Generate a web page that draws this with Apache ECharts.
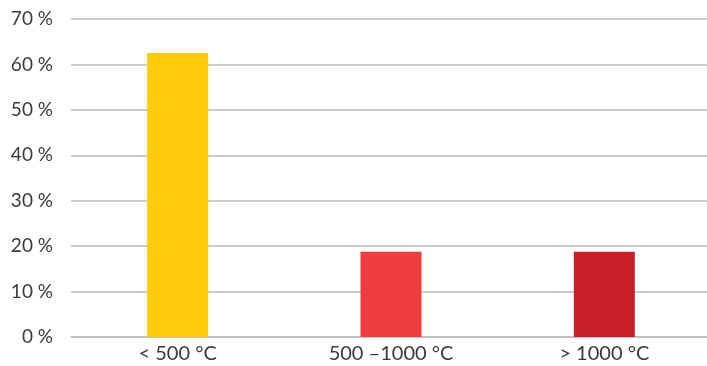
<!DOCTYPE html>
<html>
<head>
<meta charset="utf-8">
<script src="https://cdn.jsdelivr.net/npm/echarts@6/dist/echarts.min.js"></script>
<style>
  html, body { margin: 0; padding: 0; background: #fff; }
  #chart { width: 707px; height: 366px; }
</style>
</head>
<body>
<div id="chart"></div>
<script>
// Temperature ranges and their share in percent
const categories = ['< 500 °C', '500 –1000 °C', '> 1000 °C'];
const shares = [62.5, 18.75, 18.75];
const barColors = ['#FDCB08', '#EF3D3F', '#C91F28'];
const yTicks = [0, 10, 20, 30, 40, 50, 60, 70];

const chart = echarts.init(document.getElementById('chart'), null, { renderer: 'canvas' });
chart.setOption({
  animation: false,
  backgroundColor: '#ffffff',
  textStyle: { fontFamily: 'Lato, "Noto Sans", sans-serif' },
  // plot area runs slightly past the right edge of the canvas
  grid: {
    left: 71, right: -4, top: 19, bottom: 29,
    containLabel: false,
    outerBoundsMode: 'none'
  },
  xAxis: {
    type: 'category',
    data: categories,
    axisLine: { show: true, lineStyle: { color: '#bdbdbd', width: 1.5 } },
    axisTick: { show: false },
    axisLabel: { color: '#3a3a3a', fontSize: 20, margin: 7 }
  },
  yAxis: {
    type: 'value',
    min: yTicks[0],
    max: yTicks[yTicks.length - 1],
    interval: 10,
    axisLine: { show: false },
    axisTick: { show: false },
    axisLabel: {
      color: '#3a3a3a',
      fontSize: 19,
      margin: 18,
      formatter: v => v + ' %'
    },
    splitLine: { lineStyle: { color: '#bdbdbd', width: 1.5 } }
  },
  series: [{
    type: 'bar',
    barWidth: 61,
    data: shares.map((v, i) => ({ value: v, itemStyle: { color: barColors[i] } }))
  }]
});
</script>
</body>
</html>
